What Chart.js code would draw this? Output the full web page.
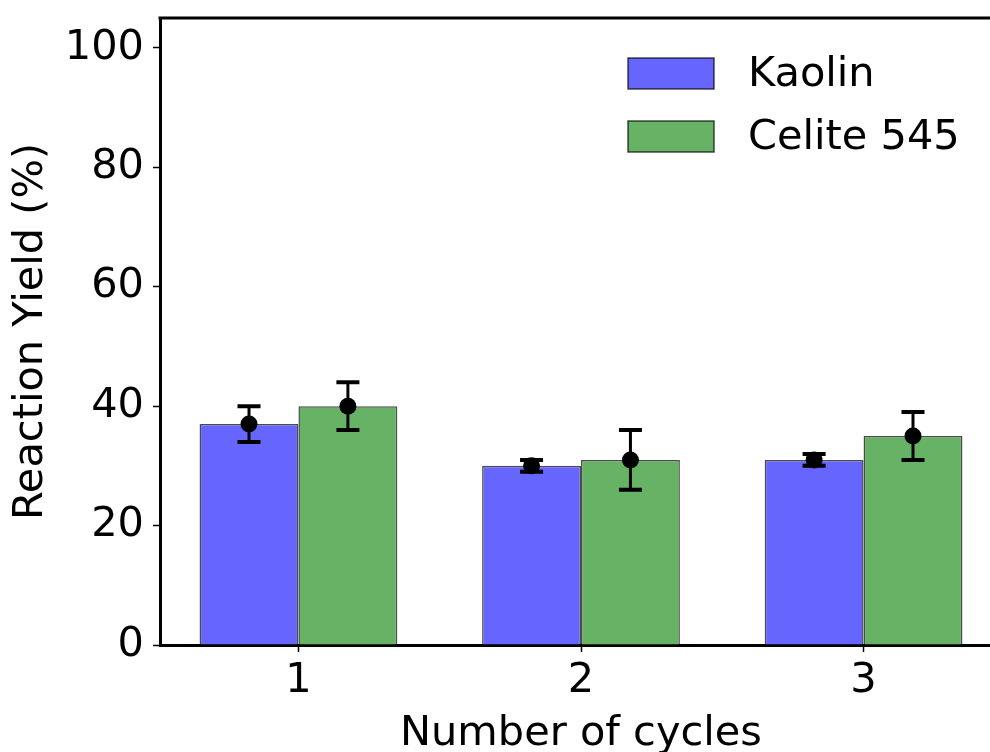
<!DOCTYPE html>
<html><head><meta charset="utf-8">
<script src="https://cdn.jsdelivr.net/npm/chart.js@4.4.1/dist/chart.umd.min.js"></script>
<style>
html,body{margin:0;padding:0;background:#fff;overflow:hidden;width:990px;height:752px}
#wrap{width:1002px;height:752px;position:relative}
canvas{display:block}
</style>
</head><body><div id="wrap"><canvas id="c" width="1002" height="752"></canvas></div>
<script>
const cycles = [1, 2, 3];
const seriesNames = ['Kaolin', 'Celite 545'];
const kaolinYield = [37, 30, 31];
const kaolinErr = [3, 1, 1];
const celiteYield = [40, 31, 35];
const celiteErr = [4, 5, 4];
const yTickValues = [0, 20, 40, 60, 80, 100];
const xLabel = 'Number of cycles';
const yLabel = 'Reaction Yield (%)';

Chart.defaults.font.family = "'DejaVu Sans', sans-serif";
Chart.defaults.color = '#000';

const FS = 41.5;
const errors = [kaolinErr, celiteErr];

const errorBarPlugin = {
  id: 'errbars',
  afterDatasetsDraw(chart) {
    const ctx = chart.ctx, ys = chart.scales.y;
    chart.data.datasets.forEach((ds, di) => {
      const meta = chart.getDatasetMeta(di);
      meta.data.forEach((el, i) => {
        const v = ds.data[i].y, e = errors[di][i];
        const x = el.x;
        const yt = ys.getPixelForValue(v + e), yb = ys.getPixelForValue(v - e), yc = ys.getPixelForValue(v);
        ctx.save();
        ctx.strokeStyle = '#000';
        ctx.lineWidth = 3;
        ctx.beginPath(); ctx.moveTo(x, yt); ctx.lineTo(x, yb); ctx.stroke();
        ctx.lineWidth = 4;
        ctx.beginPath();
        ctx.moveTo(x - 11.5, yt); ctx.lineTo(x + 11.5, yt);
        ctx.moveTo(x - 11.5, yb); ctx.lineTo(x + 11.5, yb);
        ctx.stroke();
        ctx.fillStyle = '#000';
        ctx.beginPath(); ctx.arc(x, yc, 8.5, 0, Math.PI * 2); ctx.fill();
        ctx.restore();
      });
    });
  }
};

const framePlugin = {
  id: 'frame',
  afterDraw(chart) {
    const ctx = chart.ctx, a = chart.chartArea;
    ctx.save();
    ctx.strokeStyle = '#000';
    ctx.lineWidth = 3;
    ctx.beginPath(); ctx.moveTo(a.left - 1.5, a.top); ctx.lineTo(chart.width, a.top); ctx.stroke();
    // legend
    const lx = 628, lw = 86, lh = 31, rows = [58, 121];
    ctx.font = FS + "px 'DejaVu Sans'";
    ctx.textBaseline = 'middle';
    ctx.textAlign = 'left';
    chart.data.datasets.forEach((ds, i) => {
      ctx.fillStyle = ds.backgroundColor;
      ctx.fillRect(lx, rows[i], lw, lh);
      ctx.strokeStyle = ds.borderColor;
      ctx.lineWidth = 1.5;
      ctx.strokeRect(lx, rows[i], lw, lh);
      ctx.fillStyle = '#000';
      ctx.fillText(ds.label, 748, rows[i] + lh / 2 + 2);
    });
    ctx.restore();
  }
};

new Chart(document.getElementById('c'), {
  type: 'bar',
  data: {
    datasets: [
      { label: seriesNames[0], data: cycles.map((c, i) => ({ x: c, y: kaolinYield[i] })),
        backgroundColor: '#6666ff', borderColor: 'rgba(0,0,0,0.7)', borderWidth: 1.5,
        categoryPercentage: 0.7, barPercentage: 1.0 },
      { label: seriesNames[1], data: cycles.map((c, i) => ({ x: c, y: celiteYield[i] })),
        backgroundColor: '#66b366', borderColor: 'rgba(0,0,0,0.7)', borderWidth: 1.5,
        categoryPercentage: 0.7, barPercentage: 1.0 }
    ]
  },
  options: {
    responsive: false,
    animation: false,
    layout: { padding: { top: 18, right: 0, left: 0, bottom: 0 } },
    plugins: { legend: { display: false }, tooltip: { enabled: false } },
    scales: {
      x: {
        type: 'linear', min: 0.51, max: 3.49, offset: false,
        afterBuildTicks: (ax) => { ax.ticks = cycles.map(v => ({ value: v })); },
        afterFit: (ax) => { ax.height = 107; ax.paddingLeft = 0; ax.paddingRight = 0; },
        ticks: { font: { size: FS }, color: '#000', padding: 4, callback: (v) => String(v), maxRotation: 0, autoSkip: false },
        grid: { drawOnChartArea: false, drawTicks: true, tickLength: 7, tickWidth: 1.5, tickColor: '#000', offset: false },
        border: { display: true, color: '#000', width: 3 },
        title: { display: true, text: xLabel, font: { size: FS, lineHeight: 0.85 }, color: '#000', padding: { top: 0, bottom: 0 } }
      },
      y: {
        min: 0, max: 105,
        afterBuildTicks: (ax) => { ax.ticks = yTickValues.map(v => ({ value: v })); },
        afterFit: (ax) => { ax.width = 160; ax.paddingTop = 0; ax.paddingBottom = 0; },
        ticks: { font: { size: FS }, color: '#000', padding: 9 },
        grid: { drawOnChartArea: false, drawTicks: true, tickLength: 7, tickWidth: 1.5, tickColor: '#000' },
        border: { display: true, color: '#000', width: 3 },
        title: { display: true, text: yLabel, font: { size: FS }, color: '#000', padding: { top: 6, bottom: 4 } }
      }
    }
  },
  plugins: [errorBarPlugin, framePlugin]
});
</script>
</body></html>
